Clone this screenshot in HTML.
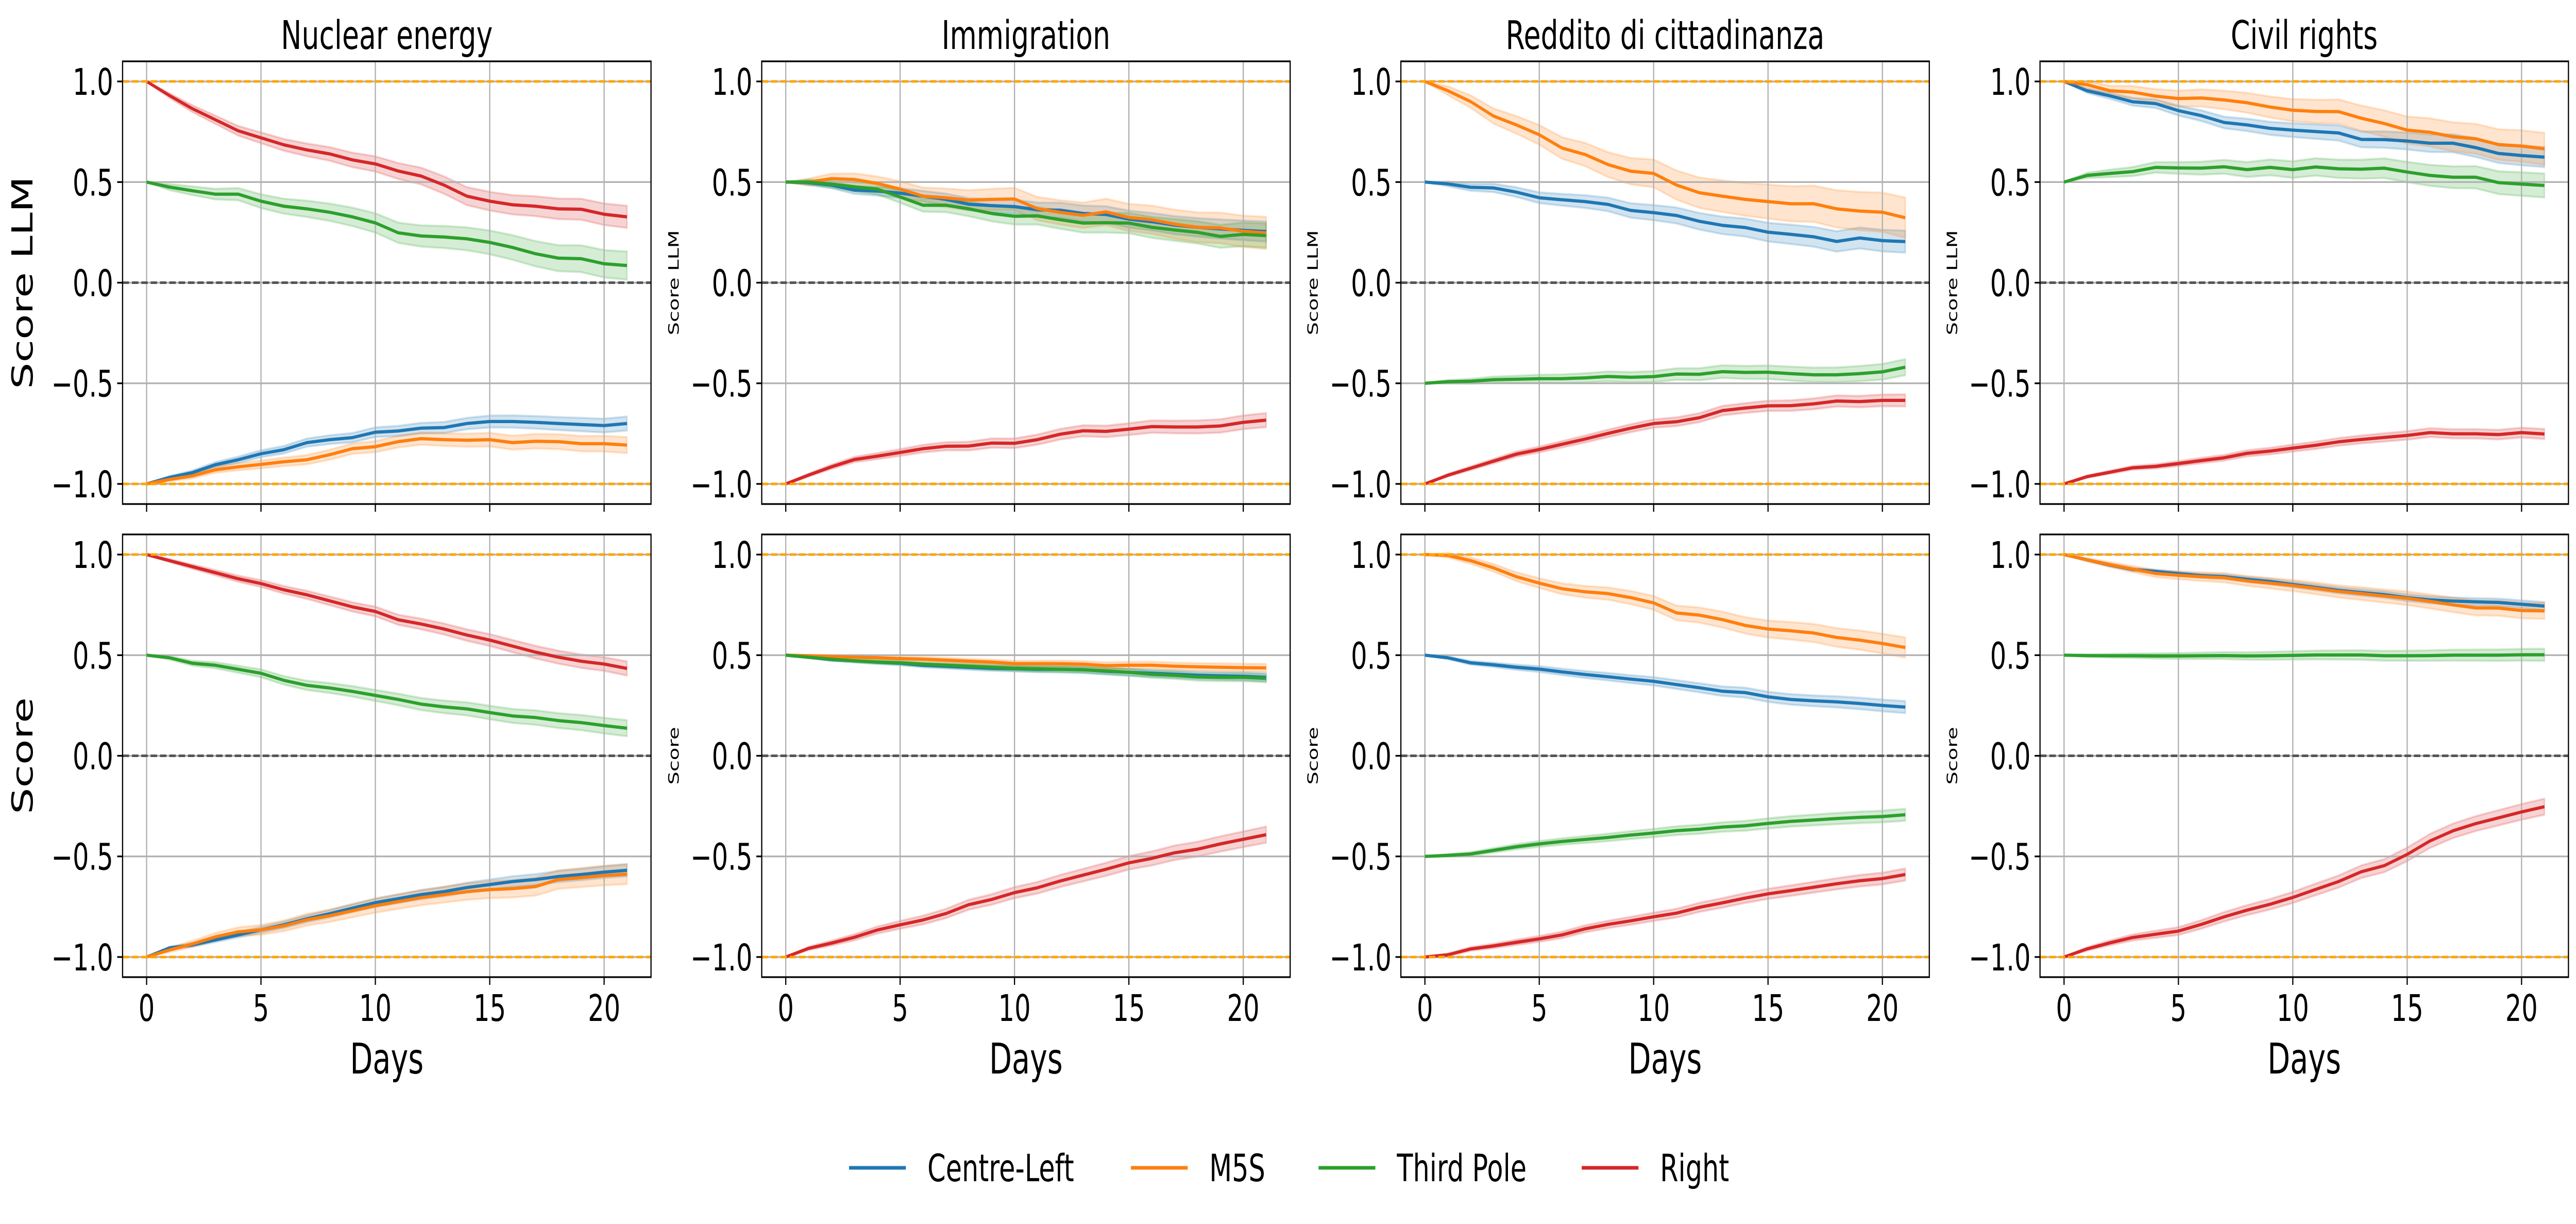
<!DOCTYPE html>
<html><head><meta charset="utf-8"><title>Score trajectories</title>
<style>html,body{margin:0;padding:0;background:#fff;overflow:hidden;width:100%;height:100%}svg{display:block;width:100vw;height:100vh}text{font-family:"DejaVu Sans","Liberation Sans",sans-serif;fill:#000}</style>
</head><body>
<svg id="fig" xmlns="http://www.w3.org/2000/svg" viewBox="0 0 7166 2375" preserveAspectRatio="none"></svg>
<script>
const days = [0,1,2,3,4,5,6,7,8,9,10,11,12,13,14,15,16,17,18,19,20,21];
const topicTitles = ["Nuclear energy","Immigration","Reddito di cittadinanza","Civil rights"];
const seriesNames = ["Centre-Left","M5S","Third Pole","Right"];
const seriesColors = ["#1f77b4","#ff7f0e","#2ca02c","#d62728"];
const xTicks = [0,5,10,15,20];
const yTicks = [-1.0,-0.5,0.0,0.5,1.0];
const yTickLabels = ["\u22121.0","\u22120.5","0.0","0.5","1.0"];

// Nuclear energy - Score LLM
const nucLlmCL = [-1,-0.968,-0.944,-0.905,-0.88,-0.85,-0.83,-0.795,-0.78,-0.77,-0.743,-0.737,-0.723,-0.72,-0.70,-0.69,-0.69,-0.694,-0.70,-0.705,-0.71,-0.70];
const nucLlmM5S = [-1,-0.978,-0.96,-0.93,-0.915,-0.903,-0.89,-0.88,-0.855,-0.825,-0.815,-0.79,-0.775,-0.78,-0.783,-0.78,-0.795,-0.788,-0.79,-0.8,-0.8,-0.807];
const nucLlmTP = [0.5,0.475,0.457,0.44,0.44,0.405,0.38,0.367,0.35,0.327,0.297,0.248,0.232,0.227,0.218,0.2,0.175,0.144,0.122,0.119,0.094,0.085];
const nucLlmR = [1.0,0.93,0.865,0.81,0.755,0.72,0.685,0.66,0.64,0.61,0.59,0.555,0.53,0.485,0.43,0.405,0.387,0.38,0.367,0.365,0.34,0.327];
// Nuclear energy - Score
const nucScCL = [-1,-0.955,-0.94,-0.915,-0.89,-0.865,-0.84,-0.81,-0.785,-0.757,-0.73,-0.71,-0.69,-0.675,-0.655,-0.64,-0.625,-0.615,-0.6,-0.59,-0.578,-0.569];
const nucScM5S = [-1,-0.965,-0.935,-0.9,-0.875,-0.865,-0.845,-0.815,-0.795,-0.77,-0.745,-0.725,-0.705,-0.69,-0.675,-0.665,-0.66,-0.65,-0.615,-0.605,-0.595,-0.588];
const nucScTP = [0.5,0.487,0.46,0.45,0.43,0.41,0.375,0.35,0.337,0.32,0.30,0.28,0.257,0.243,0.233,0.215,0.198,0.19,0.175,0.165,0.15,0.137];
const nucScR = [1.0,0.97,0.94,0.91,0.88,0.856,0.825,0.80,0.77,0.74,0.717,0.676,0.655,0.63,0.60,0.575,0.545,0.515,0.49,0.47,0.456,0.434];
// Immigration - Score LLM
const immLlmCL = [0.5,0.497,0.485,0.46,0.455,0.445,0.43,0.414,0.39,0.383,0.378,0.362,0.36,0.344,0.339,0.316,0.303,0.286,0.275,0.267,0.26,0.254];
const immLlmM5S = [0.5,0.5,0.517,0.513,0.493,0.465,0.43,0.422,0.41,0.414,0.416,0.368,0.349,0.335,0.352,0.324,0.313,0.291,0.275,0.272,0.255,0.247];
const immLlmTP = [0.5,0.5,0.49,0.476,0.465,0.426,0.385,0.385,0.367,0.344,0.33,0.332,0.313,0.296,0.298,0.296,0.275,0.262,0.25,0.23,0.24,0.234];
const immLlmR = [-1,-0.956,-0.915,-0.879,-0.862,-0.844,-0.825,-0.813,-0.812,-0.797,-0.798,-0.78,-0.753,-0.736,-0.739,-0.728,-0.715,-0.717,-0.717,-0.712,-0.694,-0.683];
// Immigration - Score
const immScCL = [0.5,0.49,0.478,0.472,0.465,0.46,0.45,0.445,0.44,0.435,0.433,0.43,0.43,0.428,0.42,0.415,0.41,0.405,0.4,0.397,0.395,0.39];
const immScM5S = [0.5,0.497,0.493,0.49,0.487,0.483,0.48,0.475,0.47,0.465,0.458,0.458,0.458,0.455,0.448,0.45,0.45,0.445,0.442,0.44,0.438,0.437];
const immScTP = [0.5,0.49,0.48,0.472,0.466,0.462,0.455,0.45,0.445,0.44,0.435,0.432,0.43,0.427,0.422,0.415,0.405,0.4,0.392,0.39,0.39,0.385];
const immScR = [-1,-0.957,-0.931,-0.902,-0.866,-0.84,-0.816,-0.784,-0.74,-0.714,-0.68,-0.656,-0.622,-0.593,-0.564,-0.532,-0.51,-0.482,-0.464,-0.438,-0.415,-0.392];
// Reddito - Score LLM
const rdcLlmCL = [0.5,0.491,0.474,0.471,0.45,0.422,0.412,0.403,0.389,0.359,0.348,0.334,0.305,0.285,0.274,0.251,0.24,0.228,0.205,0.222,0.209,0.204];
const rdcLlmM5S = [1.0,0.954,0.9,0.828,0.784,0.735,0.669,0.637,0.587,0.554,0.543,0.485,0.447,0.43,0.414,0.403,0.392,0.392,0.367,0.356,0.35,0.323];
const rdcLlmTP = [-0.5,-0.492,-0.49,-0.482,-0.48,-0.477,-0.477,-0.473,-0.466,-0.47,-0.467,-0.454,-0.455,-0.442,-0.446,-0.445,-0.452,-0.458,-0.458,-0.452,-0.443,-0.42];
const rdcLlmR = [-1,-0.957,-0.922,-0.887,-0.852,-0.829,-0.803,-0.777,-0.749,-0.723,-0.7,-0.691,-0.671,-0.636,-0.623,-0.612,-0.611,-0.602,-0.588,-0.591,-0.585,-0.585];
// Reddito - Score
const rdcScCL = [0.5,0.487,0.462,0.452,0.44,0.431,0.417,0.404,0.393,0.381,0.37,0.354,0.338,0.321,0.314,0.293,0.28,0.273,0.268,0.26,0.25,0.242];
const rdcScM5S = [1.0,0.996,0.97,0.934,0.89,0.858,0.83,0.815,0.806,0.786,0.76,0.71,0.699,0.677,0.648,0.63,0.621,0.61,0.588,0.575,0.558,0.538];
const rdcScTP = [-0.5,-0.495,-0.488,-0.47,-0.452,-0.438,-0.426,-0.416,-0.406,-0.394,-0.384,-0.372,-0.365,-0.354,-0.348,-0.336,-0.326,-0.319,-0.312,-0.306,-0.302,-0.293];
const rdcScR = [-1,-0.989,-0.96,-0.945,-0.927,-0.91,-0.89,-0.86,-0.838,-0.82,-0.8,-0.782,-0.753,-0.731,-0.707,-0.686,-0.67,-0.653,-0.636,-0.621,-0.61,-0.59];
// Civil rights - Score LLM
const civLlmCL = [1.0,0.954,0.929,0.899,0.89,0.855,0.83,0.796,0.784,0.767,0.758,0.751,0.744,0.712,0.711,0.704,0.693,0.693,0.671,0.642,0.632,0.624];
const civLlmM5S = [1.0,0.984,0.954,0.947,0.927,0.915,0.918,0.908,0.894,0.873,0.857,0.851,0.85,0.817,0.791,0.758,0.747,0.725,0.715,0.686,0.679,0.665];
const civLlmTP = [0.5,0.533,0.543,0.552,0.573,0.57,0.569,0.576,0.562,0.573,0.562,0.575,0.566,0.564,0.569,0.55,0.533,0.524,0.524,0.497,0.49,0.483];
const civLlmR = [-1,-0.964,-0.942,-0.92,-0.913,-0.899,-0.884,-0.87,-0.848,-0.837,-0.822,-0.808,-0.791,-0.779,-0.769,-0.759,-0.745,-0.751,-0.751,-0.755,-0.745,-0.752];
// Civil rights - Score
const civScCL = [1.0,0.974,0.948,0.926,0.916,0.905,0.895,0.89,0.877,0.866,0.851,0.837,0.822,0.811,0.801,0.786,0.775,0.769,0.765,0.762,0.753,0.744];
const civScM5S = [1.0,0.974,0.95,0.928,0.906,0.897,0.89,0.885,0.869,0.858,0.846,0.832,0.817,0.806,0.794,0.783,0.767,0.75,0.735,0.734,0.722,0.72];
const civScTP = [0.5,0.498,0.497,0.497,0.496,0.496,0.497,0.498,0.496,0.497,0.499,0.501,0.501,0.501,0.497,0.497,0.498,0.5,0.5,0.5,0.502,0.502];
const civScR = [-1,-0.96,-0.93,-0.903,-0.887,-0.871,-0.838,-0.8,-0.767,-0.738,-0.704,-0.664,-0.625,-0.576,-0.546,-0.49,-0.423,-0.373,-0.337,-0.308,-0.279,-0.253];
// confidence band half-widths at final day (CL, M5S, TP, R)
const bandNucLlm = [0.035,0.04,0.07,0.055];
const bandNucSc = [0.03,0.05,0.04,0.035];
const bandImmLlm = [0.05,0.08,0.06,0.035];
const bandImmSc = [0.02,0.02,0.02,0.04];
const bandRdcLlm = [0.055,0.1,0.04,0.03];
const bandRdcSc = [0.03,0.05,0.03,0.03];
const bandCivLlm = [0.05,0.08,0.06,0.025];
const bandCivSc = [0.02,0.04,0.03,0.04];

const NS = "http://www.w3.org/2000/svg";
const svg = document.getElementById("fig");
function mk(tag, attrs, parent) {
  const e = document.createElementNS(NS, tag);
  for (const k in attrs) e.setAttribute(k, attrs[k]);
  (parent || svg).appendChild(e);
  return e;
}
const LEFTS = [341, 2119, 3897, 5675];
const W = 1470;
const TOPS = [119, 1037];
const H = 859;
const XMIN = -1.05, XMAX = 22.05, YMIN = -1.1, YMAX = 1.1;

const panels = [
  [[nucLlmCL,nucLlmM5S,nucLlmTP,nucLlmR], bandNucLlm, [nucScCL,nucScM5S,nucScTP,nucScR], bandNucSc],
  [[immLlmCL,immLlmM5S,immLlmTP,immLlmR], bandImmLlm, [immScCL,immScM5S,immScTP,immScR], bandImmSc],
  [[rdcLlmCL,rdcLlmM5S,rdcLlmTP,rdcLlmR], bandRdcLlm, [rdcScCL,rdcScM5S,rdcScTP,rdcScR], bandRdcSc],
  [[civLlmCL,civLlmM5S,civLlmTP,civLlmR], bandCivLlm, [civScCL,civScM5S,civScTP,civScR], bandCivSc]
];
const shortNames = ["centre-left","m5s","third-pole","right"];

function drawAxes(col, row, seriesList, bands) {
  const L = LEFTS[col], T = TOPS[row];
  const xs = d => L + (d - XMIN) / (XMAX - XMIN) * W;
  const ys = v => T + (YMAX - v) / (YMAX - YMIN) * H;
  const g = mk("g", {});
  
  
  seriesList.forEach((vals, si) => {
    let up = "", dn = "";
    days.forEach((d, i) => {
      const hw = bands[si] * Math.sqrt(d / 21);
      up += (i ? "L" : "M") + xs(d).toFixed(1) + "," + ys(vals[i] + hw).toFixed(1);
    });
    for (let i = days.length - 1; i >= 0; i--) {
      const hw = bands[si] * Math.sqrt(days[i] / 21);
      dn += "L" + xs(days[i]).toFixed(1) + "," + ys(vals[i] - hw).toFixed(1);
    }
    const p = mk("path", {d: up + dn + "Z", fill: seriesColors[si], "fill-opacity": 0.2, stroke: seriesColors[si], "stroke-opacity": 0.2, "stroke-width": 4}, g);
    
    
  });
  xTicks.forEach(t => {
    const l = mk("line", {x1: xs(t), x2: xs(t), y1: T, y2: T + H, stroke: "#b0b0b0", "stroke-width": 3.3}, g);
    
    
  });
  yTicks.forEach(t => {
    const l = mk("line", {x1: L, x2: L + W, y1: ys(t), y2: ys(t), stroke: "#b0b0b0", "stroke-width": 3.3}, g);
    
    
  });
  seriesList.forEach((vals, si) => {
    const pts = days.map((d, i) => xs(d).toFixed(1) + "," + ys(vals[i]).toFixed(1)).join(" ");
    const pl = mk("polyline", {points: pts, fill: "none", stroke: seriesColors[si], "stroke-width": 6.25, "stroke-linejoin": "round"}, g);
    
    
  });
  [[1, "#ffa500"], [-1, "#ffa500"], [0, "#555555"]].forEach(([v, c]) => {
    const l = mk("line", {x1: L, x2: L + W, y1: ys(v), y2: ys(v), stroke: c, "stroke-width": 5, "stroke-dasharray": "18,8"}, g);
    
    
  });
  const sp = mk("rect", {x: L, y: T, width: W, height: H, fill: "none", stroke: "#000", "stroke-width": 3.3}, g);
  
  
  xTicks.forEach(t => {
    mk("line", {x1: xs(t), x2: xs(t), y1: T + H, y2: T + H + 15, stroke: "#000", "stroke-width": 3.3}, g);
    if (row === 1) {
      const tx = mk("text", {x: xs(t), y: T + H + 85, "font-size": 71, "text-anchor": "middle"}, g);
      tx.textContent = String(t);
      
      
    }
  });
  yTicks.forEach((t, i) => {
    mk("line", {x1: L - 15, x2: L, y1: ys(t), y2: ys(t), stroke: "#000", "stroke-width": 3.3}, g);
    const tx = mk("text", {x: L - 26, y: ys(t) + 26, "font-size": 71, "text-anchor": "end"}, g);
    tx.textContent = yTickLabels[i];
    
    
  });
  const lab = row === 0 ? "Score LLM" : "Score";
  const big = col === 0;
  const lx = big ? L - 278 : L - 244;
  const ly = T + H / 2;
  const yl = mk("text", {x: lx, y: ly, "font-size": big ? 81 : 40, "text-anchor": "middle", "dominant-baseline": "central", transform: "rotate(-90 " + lx + " " + ly + ")"}, g);
  yl.textContent = lab;
  
  
  if (row === 0) {
    const tt = mk("text", {x: L + W / 2, y: 95, "font-size": 77, "text-anchor": "middle"}, g);
    tt.textContent = topicTitles[col];
    
    
  } else {
    const xl = mk("text", {x: L + W / 2, y: 2083, "font-size": 82, "text-anchor": "middle"}, g);
    xl.textContent = "Days";
    
    
  }
}
panels.forEach((p, c) => { drawAxes(c, 0, p[0], p[1]); drawAxes(c, 1, p[2], p[3]); });

const legendX = [2362, 3146, 3668, 4400];
const leg = mk("g", {});


seriesNames.forEach((n, i) => {
  const e = mk("g", {}, leg);
  
  
  mk("line", {x1: legendX[i], x2: legendX[i] + 158, y1: 2266, y2: 2266, stroke: seriesColors[i], "stroke-width": 7}, e);
  const t = mk("text", {x: legendX[i] + 218, y: 2292, "font-size": 73}, e);
  t.textContent = n;
});
</script>
</body></html>
